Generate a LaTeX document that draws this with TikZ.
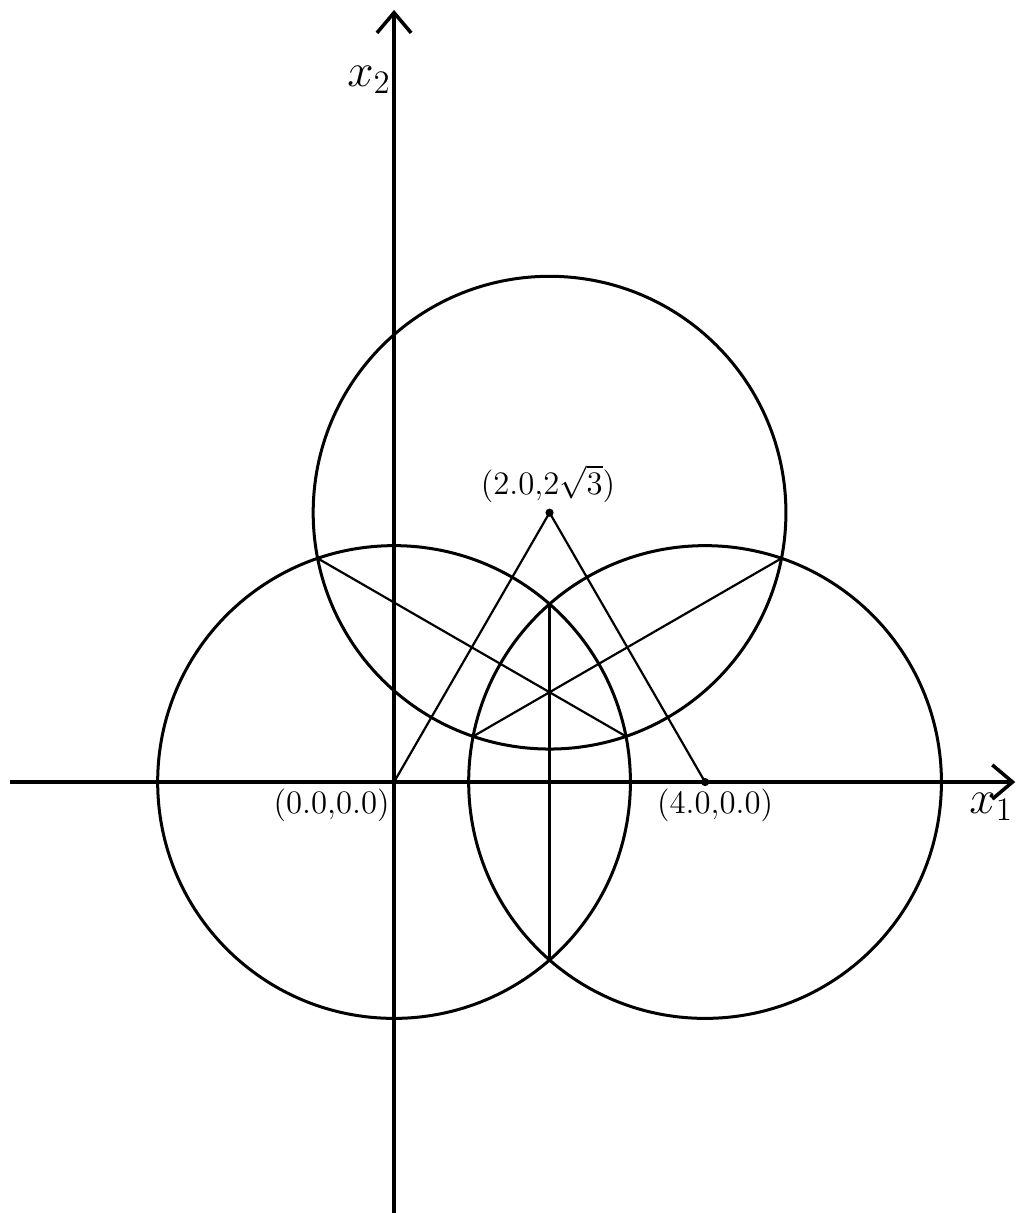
\documentclass[tikz,border=0pt]{standalone}
\usepackage{amsmath}
\usepackage{tikz}
\usetikzlibrary{arrows.meta, positioning, calc}

\begin{document}
\begin{tikzpicture}[
    x=1cm, y=1cm,
    axis/.style={
        line width=1.3pt,
        -{Straight Barb[length=2.6mm,width=4.4mm,line width=1.3pt]}
    },
    circ/.style={
        line width=1.1pt,
        draw=black
    },
    chord/.style={
        line width=0.8pt,
        draw=black
    },
    lbl/.style={
        font=\large,
        inner sep=0pt
    },
    axislbl/.style={
        font=\LARGE,
        inner sep=0pt
    },
    dot/.style={
        circle,
        fill=black,
        inner sep=0pt,
        minimum size=3pt
    }
]
\useasboundingbox (-5.068,-5.543) rectangle (8.0,10.058);
\pgfmathsetmacro{\rad}{3.04}
\pgfmathsetmacro{\hc}{sqrt(\rad*\rad-4)}

% Axis ends
\coordinate (xstart) at (-4.94,0);
\coordinate (xend) at (7.99,0);
\coordinate (ystart) at (0,-5.55);
\coordinate (yend) at (0,9.93);

% Centres of the circles
\coordinate (O) at (0,0);
\coordinate (A) at (4,0);
\coordinate (T) at (2,{2*sqrt(3)});

% End points of the common chords
\coordinate (lrTop) at (2,\hc);
\coordinate (lrBot) at (2,-\hc);
\coordinate (ltOut) at ({1-0.866*\hc},{1.732+0.5*\hc});
\coordinate (ltIn) at ({1+0.866*\hc},{1.732-0.5*\hc});
\coordinate (trOut) at ({3+0.866*\hc},{1.732+0.5*\hc});
\coordinate (trIn) at ({3-0.866*\hc},{1.732-0.5*\hc});

% Axes
\draw[axis] (xstart) -- (xend);
\draw[axis] (ystart) -- (yend);

% Circles
\draw[circ] (O) circle[radius=\rad];
\draw[circ] (A) circle[radius=\rad];
\draw[circ] (T) circle[radius=\rad];

% Triangle sides
\draw[chord] (O) -- (T);
\draw[chord] (T) -- (A);

% Common chords
\draw[chord] (lrTop) -- (lrBot);
\draw[chord] (ltOut) -- (ltIn);
\draw[chord] (trOut) -- (trIn);

% Vertex dots
\node[dot] (dotT) at (T) {};
\node[dot] (dotA) at (A) {};

% Labels
\node[lbl, anchor=north east] (lblO) at (-0.05,-0.08) {(0.0,0.0)};
\node[lbl, anchor=north] (lblA) at (4.13,-0.08) {(4.0,0.0)};
\node[lbl, anchor=south] (lblT) at (1.98,3.58) {(2.0,2$\sqrt{3}$)};
\node[axislbl, anchor=east] (lblx2) at (-0.03,9.03) {$x_2$};
\node[axislbl, anchor=east] (lblx1) at (7.97,-0.32) {$x_1$};

\end{tikzpicture}
\end{document}
